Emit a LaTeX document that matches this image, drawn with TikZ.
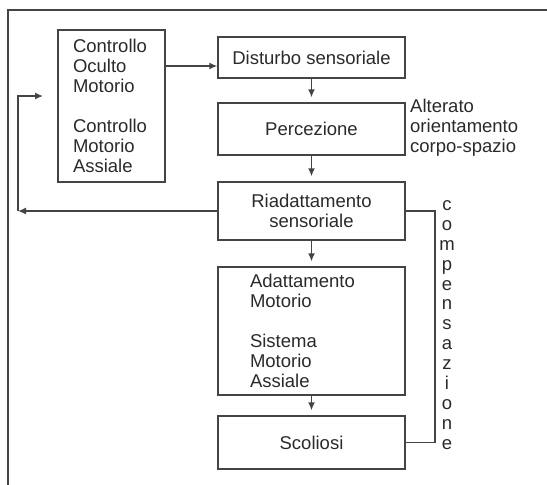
\documentclass[tikz,border=0pt]{standalone}
\usepackage{fontspec}
\setmainfont{Liberation Sans}
\usetikzlibrary{arrows.meta,positioning}
\definecolor{inkline}{HTML}{444444}
\definecolor{inktext}{HTML}{2A2A2A}
\tikzset{
  box/.style={draw=inkline,line width=1.4pt,text=inktext,minimum width=187pt,
    font=\fontsize{18.5}{20}\selectfont},
  txt/.style={text=inktext,font=\fontsize{18.5}{20}\selectfont},
  arr/.style={draw=inkline,line width=1.4pt,-{Latex[length=8pt,width=7pt]}},
  link/.style={draw=inkline,line width=1.4pt}
}
\begin{document}
\begin{tikzpicture}[x=1pt,y=-1pt]
  \useasboundingbox (0,0) rectangle (547,485);
  % frame
  \draw[link] (547,10) -- (8,10) -- (8,485);
  % boxes
  \node[box,minimum width=107pt,minimum height=152pt,text width=77pt,inner xsep=15pt,align=left] (ctrl) at (111.5,106)
    {Controllo\\Oculto\\Motorio\\[20pt]Controllo\\Motorio\\Assiale};
  \node[box,minimum height=41pt] (dist) at (311.5,57.5) {Disturbo sensoriale};
  \node[box,minimum height=52pt] (perc) at (311.5,129) {Percezione};
  \node[box,minimum height=58pt,align=center] (riad) at (311.5,211) {Riadattamento\\sensoriale};
  \node[box,minimum height=128pt,text width=123pt,inner xsep=32pt,align=left] (adat) at (311.5,331)
    {Adattamento\\Motorio\\[20pt]Sistema\\Motorio\\Assiale};
  \node[box,minimum height=53pt] (scol) at (311.5,442.5) {Scoliosi};
  % side texts
  \node[txt,anchor=west,align=left,inner sep=0pt] (alt) at (410,128)
    {Alterato\\orientamento\\corpo-spazio};
  \node[txt,align=center,inner sep=0pt,font=\fontsize{18.5}{19.9}\selectfont] (comp) at (447,325)
    {c\\o\\m\\p\\e\\n\\s\\a\\z\\i\\o\\n\\e};
  % connectors
  \draw[arr] ([yshift=40pt]ctrl.east) coordinate (c1) -- (c1 -| dist.west);
  \draw[arr,shorten >=5pt] (dist) -- (perc);
  \draw[arr,shorten >=5pt] (perc) -- (riad);
  \draw[arr,shorten >=5pt] (riad) -- (adat);
  \draw[arr,shorten >=5pt] (adat) -- (scol);
  \coordinate (fb) at (18,211);
  \coordinate (fbtop) at (43,96);
  \draw[arr] (riad.west) -- (fb);
  \draw[arr] (fb) |- (fbtop);
  \coordinate (cr) at (435,211);
  \draw[link] (riad.east) -- (cr) |- (scol.east);
\end{tikzpicture}
\end{document}
